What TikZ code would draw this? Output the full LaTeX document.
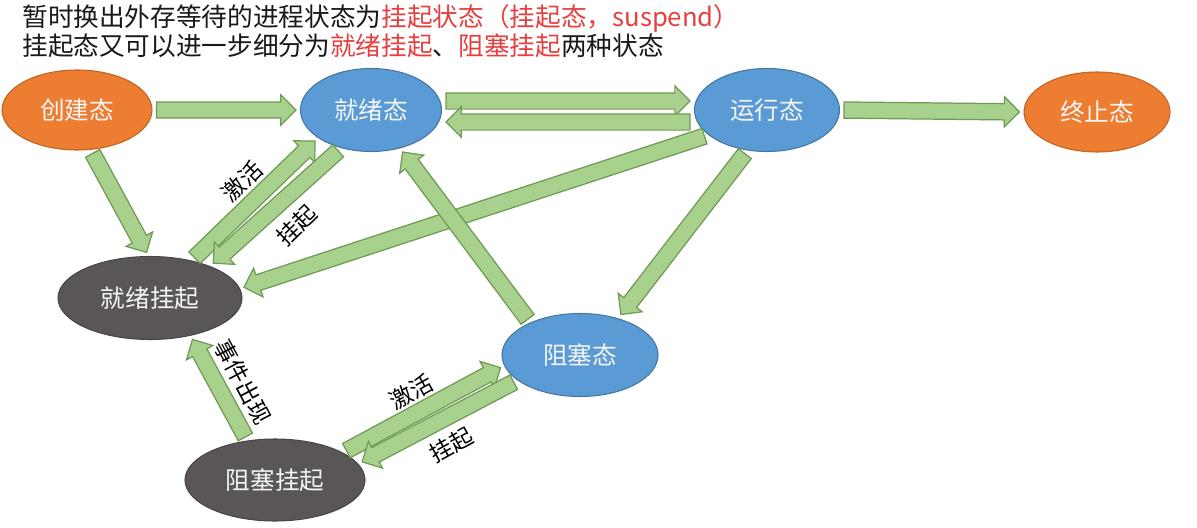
\documentclass[tikz,border=0pt]{standalone}
\usepackage{fontspec}
\setmainfont{Noto Sans CJK SC}
\usepackage{tikz}
\usetikzlibrary{positioning, calc, shapes, arrows}

\definecolor{stOrange}{HTML}{ED7D31}
\definecolor{stBlue}{HTML}{5B9BD5}
\definecolor{stGray}{HTML}{5A5657}
\definecolor{arrFill}{HTML}{A9D18E}
\definecolor{arrLine}{HTML}{6F9A55}
\definecolor{hl}{HTML}{E5403F}

% block arrow between two points, pulled back a little at both ends
\newcommand{\garrow}[2]{%
  \path let \p1=($(#1)!0.08cm!(#2)$), \p2=($(#2)!0.08cm!(#1)$), \p3=($(\p2)-(\p1)$),
    \n1={atan2(\y3,\x3)}, \n2={veclen(\x3,\y3)} in
    node[blockarrow, minimum height=\n2, rotate=\n1, anchor=tail] at (\p1) {};}

\begin{document}
\begin{tikzpicture}[
  state/.style={ellipse, inner sep=0pt, minimum height=1.66cm, text=white!96!black,
    font=\fontsize{14pt}{16pt}\selectfont, line width=0.6pt},
  orangestate/.style={state, fill=stOrange, draw=stOrange!80!black},
  bluestate/.style={state, fill=stBlue, draw=stBlue!75!black},
  graystate/.style={state, fill=stGray, draw=stGray!80!black},
  blockarrow/.style={single arrow, draw=arrLine, fill=arrFill, line width=0.7pt,
    inner sep=0.15cm, outer sep=0pt, single arrow head extend=0.14cm,
    single arrow head indent=0cm},
  lbl/.style={font=\fontsize{13pt}{15pt}\selectfont, inner sep=0pt},
  title/.style={anchor=west, font=\fontsize{14.6pt}{17pt}\selectfont, inner sep=0pt, text=black!90}]

  \useasboundingbox (0,0) rectangle (23.94,-10.54);

  \node[title] (t1) at (0.44,-0.36) {暂时换出外存等待的进程状态为\textcolor{hl}{挂起状态（挂起态，suspend）}};
  \node[title] (t2) at (0.44,-0.92) {挂起态又可以进一步细分为\textcolor{hl}{就绪挂起}、\textcolor{hl}{阻塞挂起}两种状态};

  \node[orangestate, minimum width=3.0cm, minimum height=1.6cm] (create) at (1.54,-2.2) {创建态};
  \node[bluestate, minimum width=2.82cm] (ready) at (7.42,-2.2) {就绪态};
  \node[bluestate, minimum width=2.9cm] (run) at (15.34,-2.2) {运行态};
  \node[orangestate, minimum width=2.92cm, minimum height=1.6cm] (exit) at (21.94,-2.24) {终止态};
  \node[graystate, minimum width=3.68cm] (rsusp) at (3.0,-5.96) {就绪挂起};
  \node[bluestate, minimum width=3.12cm] (block) at (11.6,-7.1) {阻塞态};
  \node[graystate, minimum width=3.6cm, minimum height=1.64cm] (bsusp) at (5.5,-9.6) {阻塞挂起};

  \coordinate (r1) at ([yshift=0.18cm]ready.east);
  \coordinate (u1) at ([yshift=0.18cm]run.west);
  \coordinate (r2) at ([yshift=-0.24cm]ready.east);
  \coordinate (u2) at ([yshift=-0.24cm]run.west);

  \garrow{create.east}{ready.west}
  \garrow{r1}{u1}
  \garrow{u2}{r2}
  \garrow{run.east}{exit.west}
  \garrow{create.-71}{rsusp.92}
  \garrow{rsusp.42}{ready.-152}
  \garrow{ready.-128}{rsusp.28}
  \garrow{run.-157}{rsusp.6}
  \garrow{block.147}{ready.-53}
  \garrow{run.-116}{block.44}
  \garrow{bsusp.125}{rsusp.-43}
  \garrow{bsusp.22}{block.-172}
  \garrow{block.-158}{bsusp.11}

  \node[lbl, rotate=44] (act1) at (4.84,-3.62) {激活};
  \node[lbl, rotate=44] (sus1) at (5.94,-4.5) {挂起};
  \node[lbl, rotate=-62] (evt) at (4.86,-7.64) {事件出现};
  \node[lbl, rotate=29] (act2) at (8.22,-7.84) {激活};
  \node[lbl, rotate=29] (sus2) at (9.02,-8.9) {挂起};
\end{tikzpicture}
\end{document}
